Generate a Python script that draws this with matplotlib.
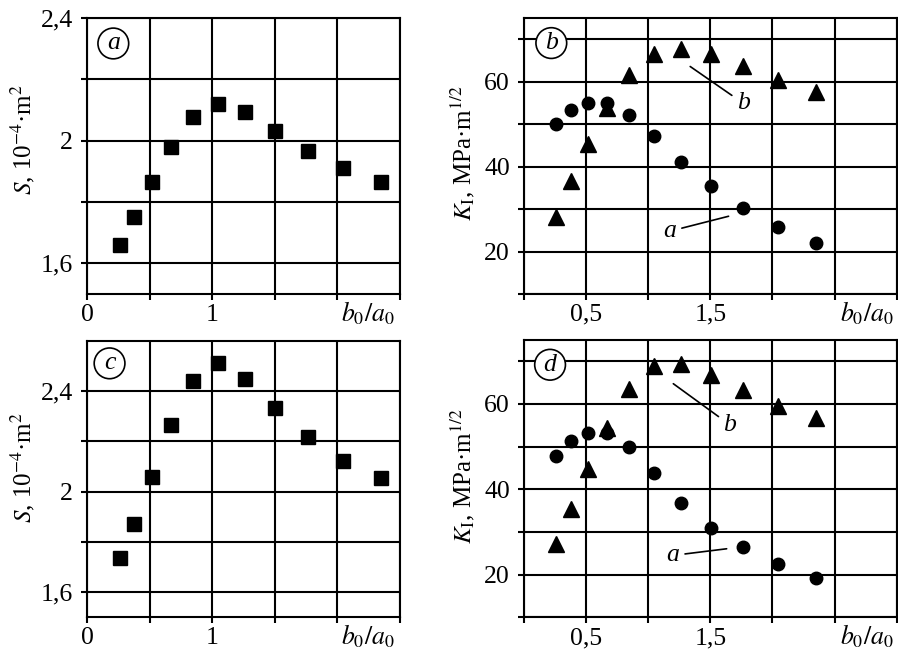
import matplotlib
matplotlib.use('Agg')
import matplotlib.pyplot as plt

plt.rcParams['font.family'] = ['Liberation Serif', 'DejaVu Serif']
plt.rcParams['mathtext.fontset'] = 'stix'

# b0/a0 positions (same for every panel)
ratio = [0.26, 0.375, 0.515, 0.67, 0.845, 1.045, 1.26, 1.505, 1.765, 2.045, 2.35]

# panel a / c: area S, 10^-4 m^2
S_a = [1.659, 1.751, 1.865, 1.981, 2.078, 2.118, 2.093, 2.033, 1.968, 1.912, 1.866]
S_c = [1.737, 1.873, 2.057, 2.264, 2.441, 2.511, 2.449, 2.333, 2.217, 2.124, 2.053]

# panel b / d: K_I, MPa m^1/2 (circles = curve a, triangles = curve b)
K_b_circ = [50.1, 53.3, 55.1, 54.9, 52.1, 47.1, 41.2, 35.5, 30.2, 25.8, 22.1]
K_b_tri = [28.1, 36.7, 45.4, 53.9, 61.6, 66.5, 67.7, 66.5, 63.6, 60.4, 57.5]
K_d_circ = [47.8, 51.4, 53.3, 53.3, 50.0, 43.8, 36.8, 31.0, 26.4, 22.6, 19.2]
K_d_tri = [27.1, 35.3, 44.7, 54.3, 63.4, 69.0, 69.4, 66.9, 63.3, 59.6, 56.7]

fig = plt.figure(figsize=(8.98, 6.55), dpi=100)
ax_a = fig.add_axes([0.0969, 0.5511, 0.3486, 0.4214])
ax_b = fig.add_axes([0.5835, 0.5511, 0.4150, 0.4214])
ax_c = fig.add_axes([0.0969, 0.0576, 0.3486, 0.4218])
ax_d = fig.add_axes([0.5835, 0.0576, 0.4150, 0.4233])

fs = 18.5   # tick labels / annotations
lfs = 18    # axis labels


def style(ax):
    ax.grid(True, color='k', lw=1.5)
    ax.set_axisbelow(True)
    for sp in ax.spines.values():
        sp.set_linewidth(1.5)
    ax.tick_params(direction='out', length=4, width=1.5, labelsize=fs, pad=3)
    ax.tick_params(axis='y', pad=6)


def panel_tag(ax, letter, x, y):
    ax.text(x, y, letter, fontsize=fs, style='italic', ha='center', va='center',
            bbox=dict(boxstyle='circle,pad=0.17', fc='white', ec='k', lw=1.2))


# ---- S panels ----
for ax, S, tag, ylim, tagpos, ly in [(ax_a, S_a, 'a', (1.5, 2.4), (0.21, 2.317), 0.56),
                                     (ax_c, S_c, 'c', (1.5, 2.6), (0.18, 2.511), 0.54)]:
    style(ax)
    ax.plot(ratio, S, 's', color='k', ms=10, zorder=3)
    ax.set_xlim(0, 2.5)
    ax.set_ylim(*ylim)
    ax.set_xticks([0, 0.5, 1, 1.5, 2, 2.5])
    ax.set_xticklabels(['0', '', '1', '', '', ''])
    ax.set_yticks([1.6, 1.8, 2.0, 2.2, 2.4])
    ax.set_yticklabels(['1,6', '', '2', '', '2,4'])
    ax.set_ylabel(r'$S$, 10$^{-4}$·m$^{2}$', fontsize=lfs)
    ax.yaxis.set_label_coords(-0.16, ly)
    panel_tag(ax, tag, *tagpos)
    ax.text(2.24, -0.07, r'$b_0/a_0$', fontsize=fs, ha='center', va='center',
            transform=ax.get_xaxis_transform())

# ---- K panels ----
for ax, kc, kt, tag, tagpos, a_lab, a_pt, b_lab, b_pt, ly in [
        (ax_b, K_b_circ, K_b_tri, 'b', (0.22, 69.1),
         (1.175, 24.8), (1.712, 28.8), (1.766, 54.9), (1.283, 64.7), 0.51),
        (ax_d, K_d_circ, K_d_tri, 'd', (0.21, 69.2),
         (1.2, 24.5), (1.698, 26.3), (1.658, 55.1), (1.148, 65.9), 0.51)]:
    style(ax)
    ax.plot(ratio, kt, '^', color='k', ms=11, zorder=3)
    ax.plot(ratio, kc, 'o', color='k', ms=9, zorder=4)
    ax.set_xlim(0, 3.0)
    ax.set_ylim(10, 75)
    ax.set_xticks([0, 0.5, 1, 1.5, 2, 2.5, 3.0])
    ax.set_xticklabels(['', '0,5', '', '1,5', '', '', ''])
    ax.set_yticks([10, 20, 30, 40, 50, 60, 70])
    ax.set_yticklabels(['', '20', '', '40', '', '60', ''])
    ax.set_ylabel(r'$K_{\rm I}$, MPa·m$^{1/2}$', fontsize=lfs)
    ax.yaxis.set_label_coords(-0.125, ly)
    panel_tag(ax, tag, *tagpos)
    ax.annotate('a', xy=a_pt, xytext=a_lab, fontsize=fs, style='italic',
                ha='center', va='center',
                arrowprops=dict(arrowstyle='-', color='k', lw=1.2, shrinkA=2, shrinkB=6))
    ax.annotate('b', xy=b_pt, xytext=b_lab, fontsize=fs, style='italic',
                ha='center', va='center',
                arrowprops=dict(arrowstyle='-', color='k', lw=1.2, shrinkA=2, shrinkB=6))
    ax.text(2.76, -0.07, r'$b_0/a_0$', fontsize=fs, ha='center', va='center',
            transform=ax.get_xaxis_transform())

fig.savefig('out.png', dpi=100)
